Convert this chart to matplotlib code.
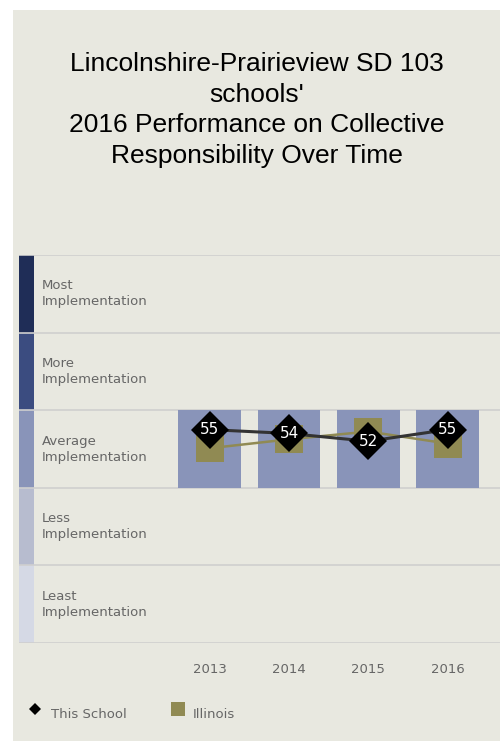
import matplotlib
matplotlib.use("Agg")
import matplotlib.pyplot as plt
from matplotlib.patches import Rectangle
from matplotlib.lines import Line2D

# data
years = ["2013", "2014", "2015", "2016"]
school = [55, 54, 52, 55]
illinois = [50.2, 52.5, 54.5, 51.4]
bar_low = [40, 40, 40, 40]
bar_high = [60, 60, 60, 60]
bands = ["Least\nImplementation", "Less\nImplementation", "Average\nImplementation",
         "More\nImplementation", "Most\nImplementation"]
band_edges = [0, 20, 40, 60, 80, 100]
band_colors = ["#d5d9e5", "#b7bccf", "#8994b9", "#3b4c80", "#1f2d57"]

panel = "#e8e8e0"
bar_color = "#8994b9"
olive = "#908a53"
text_gray = "#666666"

fig = plt.figure(figsize=(5.0, 7.41), dpi=100)
fig.patch.set_facecolor("white")
# gray panel behind everything
fig.patches.append(Rectangle((13 / 500, 0), 1 - 13 / 500, 1 - 10 / 741,
                             transform=fig.transFigure, facecolor=panel,
                             edgecolor="none", zorder=-5))

# title
fig.text(256.5 / 500, 1 - 110 / 741,
         "Lincolnshire-Prairieview SD 103\nschools'\n2016 Performance on Collective\nResponsibility Over Time",
         ha="center", va="center", fontsize=19, family="Liberation Sans",
         linespacing=1.36, color="black")

ax = fig.add_axes([19 / 500, 98 / 741, 481 / 500, 388 / 741])
ax.set_zorder(2)
ax.set_facecolor("none")
x = list(range(len(years)))
ax.set_xlim(-2.405, 3.66)
ax.set_ylim(0, 100)

# band strips, separators, labels
strip = 15 / 481
for i, name in enumerate(bands):
    lo, hi = band_edges[i], band_edges[i + 1]
    ax.axhspan(lo, hi, xmin=0, xmax=strip, color=band_colors[i], lw=0, zorder=1)
    ax.text(23 / 481, (lo + hi) / 2, name, transform=ax.get_yaxis_transform(),
            ha="left", va="center", fontsize=9.5, color=text_gray, linespacing=1.3)
for e in band_edges:
    ax.axhline(e, color="#cfcfcf", lw=1.2, zorder=2)

# bars for the band of the school score
heights = [h - l for h, l in zip(bar_high, bar_low)]
ax.bar(x, heights, bottom=bar_low, width=0.79, color=bar_color, zorder=3)

# Illinois
ax.plot(x, illinois, color=olive, lw=1.8, zorder=4)
ax.plot(x, illinois, ls="none", marker="s", ms=19.5, mew=0, color=olive, zorder=5)

# This School
ax.plot(x, school, color="#333333", lw=2.2, zorder=6)
ax.plot(x, school, ls="none", marker="D", ms=19.5, mew=0, color="black", zorder=7)
for xi, v in zip(x, school):
    ax.text(xi, v, str(v), ha="center", va="center", color="white",
            fontsize=11, zorder=8)

for s in ax.spines.values():
    s.set_visible(False)
ax.set_yticks([])
ax.set_xticks([])
for xi, yr in zip(x, years):
    ax.text(xi, -6.8, yr, ha="center", va="center", fontsize=9.5, color=text_gray)

# legend
fig.add_artist(Line2D([35 / 500], [1 - 709 / 741], marker="D", ms=6.3, mew=0,
                      color="black", transform=fig.transFigure))
fig.text(51 / 500, 1 - 715 / 741, "This School", ha="left", va="center",
         fontsize=9.5, color=text_gray)
fig.add_artist(Line2D([178.3 / 500], [1 - 709 / 741], marker="s", ms=10.4, mew=0,
                      color=olive, transform=fig.transFigure))
fig.text(193 / 500, 1 - 715 / 741, "Illinois", ha="left", va="center",
         fontsize=9.5, color=text_gray)

fig.savefig("out.png", dpi=100, facecolor=fig.get_facecolor())
